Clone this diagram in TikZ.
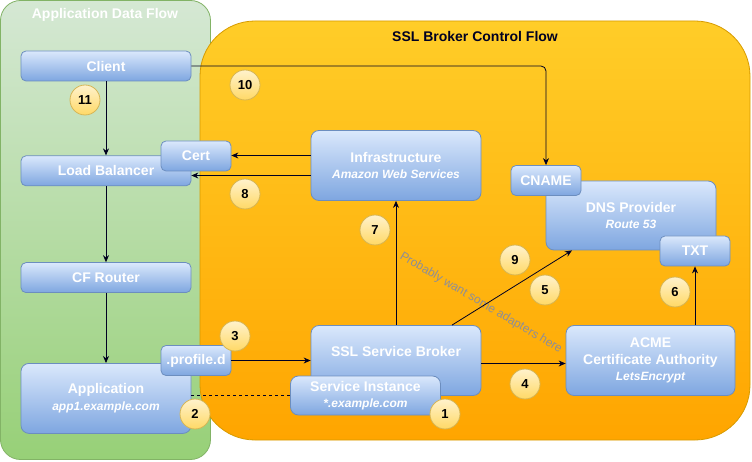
\documentclass[tikz,border=0pt]{standalone}
\usepackage{fontspec}
\setmainfont{Liberation Sans}
\usepackage{tikz}
\usetikzlibrary{arrows.meta,positioning}
\definecolor{boxtop}{HTML}{DAE8FC}
\definecolor{boxbot}{HTML}{7EA6E0}
\definecolor{boxline}{HTML}{6C8EBF}
\definecolor{numtop}{HTML}{FFF2CC}
\definecolor{numbot}{HTML}{FFD966}
\definecolor{numline}{HTML}{D6B656}
\definecolor{apptop}{HTML}{D5E8D4}
\definecolor{appbot}{HTML}{97D077}
\definecolor{appline}{HTML}{82B366}
\definecolor{ssltop}{HTML}{FFCD28}
\definecolor{sslbot}{HTML}{FFA500}
\definecolor{sslline}{HTML}{D79B00}
\definecolor{hintcol}{HTML}{8E8E96}
\definecolor{wire}{HTML}{000022}
\newcommand{\sub}[1]{{\fontsize{12}{16.5}\selectfont\itshape #1}}
\tikzset{
    %Define standard arrow tip
    >={Stealth[length=7pt,width=6pt]},
    %Define style for boxes
    comp/.style={
           rectangle,
           rounded corners=8pt,
           draw=boxline, line width=0.8pt,
           top color=boxtop, bottom color=boxbot,
           minimum width=170pt,
           minimum height=70pt,
           font=\fontsize{14}{16.5}\selectfont\bfseries,
           text=white,
           align=center},
    flat/.style={
           comp,
           rounded corners=5pt,
           minimum height=30pt},
    small/.style={
           comp,
           rounded corners=5pt,
           minimum width=70pt,
           minimum height=30pt},
    num/.style={
           circle,
           draw=numline, line width=0.8pt,
           top color=numtop, bottom color=numbot,
           minimum size=30pt,
           inner sep=0pt,
           font=\fontsize{13}{15}\selectfont\bfseries},
    title/.style={
           font=\fontsize{14}{16}\selectfont\bfseries},
    % Define arrow style
    pil/.style={
           ->,
           draw=wire,
           line width=0.8pt}
}
\begin{document}
\begin{tikzpicture}[x=1pt,y=-1pt]
\useasboundingbox (0,0) rectangle (752,462);
% containers
\path[draw=appline, line width=0.8pt, top color=apptop, bottom color=appbot, rounded corners=20pt]
	(0.5,0.5) rectangle (210.5,459.5);
\node[title, text=white] (apptitle) at (105,15) {Application Data Flow};
\path[draw=sslline, line width=0.8pt, top color=ssltop, bottom color=sslbot, rounded corners=55pt]
	(200,21) rectangle (750,440);
\node[title, text=wire] (ssltitle) at (475,36) {SSL Broker Control Flow};
% application side
\node[flat] (client) at (106,66) {Client};
\node[flat, below=74pt of client] (lb) {Load Balancer};
\node[flat, below=76pt of lb] (router) {CF Router};
\node[comp, below=70pt of router] (app) {Application\\\sub{app1.example.com}};
\node[small] (cert) at (196,156) {Cert};
\node[small] (profile) at (196,360.5) {.profile.d};
% broker side
\node[comp] (infra) at (396,165.5) {Infrastructure\\\sub{Amazon Web Services}};
\node[comp, text depth=18pt] (broker) at (396,360.5) {SSL Service Broker};
\node[comp, minimum width=150pt, minimum height=39pt] (inst) at (365.5,395.5) {Service Instance\\\sub{*.example.com}};
\node[comp, minimum width=169pt] (acme) at (650.5,360.5) {ACME\\Certificate Authority\\\sub{LetsEncrypt}};
\node[comp, minimum height=69pt] (dns) at (631,215.5) {DNS Provider\\\sub{Route 53}};
\node[small] (cname) at (546,180.5) {CNAME};
\node[small] (txt) at (695,251) {TXT};
\node[text=hintcol, rotate=-30.6, font=\fontsize{12}{14}\selectfont] (hint) at (481,303) {Probably want some adapters here};
% connectors
\path[pil]
	(client) edge (lb)
	(lb) edge (router)
	(router) edge (app)
	(profile) edge (broker.west |- profile.east)
	(broker) edge (infra);
\draw[pil, rounded corners=5pt] (client.east) -| (cname.north);
\draw[pil] ([yshift=10pt]infra.west) -- ([yshift=10pt]infra.west -| cert.east);
\draw[pil] ([yshift=-10pt]infra.west) -- ([yshift=-10pt]infra.west -| lb.east);
\draw[pil] ([xshift=56pt]broker.north) -- ([xshift=-59pt]dns.south);
\draw[pil] ([yshift=-3pt]broker.east) -- ([yshift=-3pt]broker.east -| acme.west);
\draw[pil] (txt.south |- acme.north) -- (txt.south);
\draw[draw=wire, line width=0.8pt, dash pattern=on 3pt off 3pt] (app.east |- inst.west) -- (inst.west);
% steps
\node[num] (n1) at (445,414) {1};
\node[num] (n2) at (195,414) {2};
\node[num] (n3) at (235,336) {3};
\node[num] (n4) at (525,384) {4};
\node[num] (n5) at (545,290) {5};
\node[num] (n6) at (675,292) {6};
\node[num] (n7) at (375,230) {7};
\node[num] (n8) at (245,194) {8};
\node[num] (n9) at (515,260) {9};
\node[num] (n10) at (245,85) {10};
\node[num] (n11) at (85,100) {11};
\end{tikzpicture}
\end{document}
